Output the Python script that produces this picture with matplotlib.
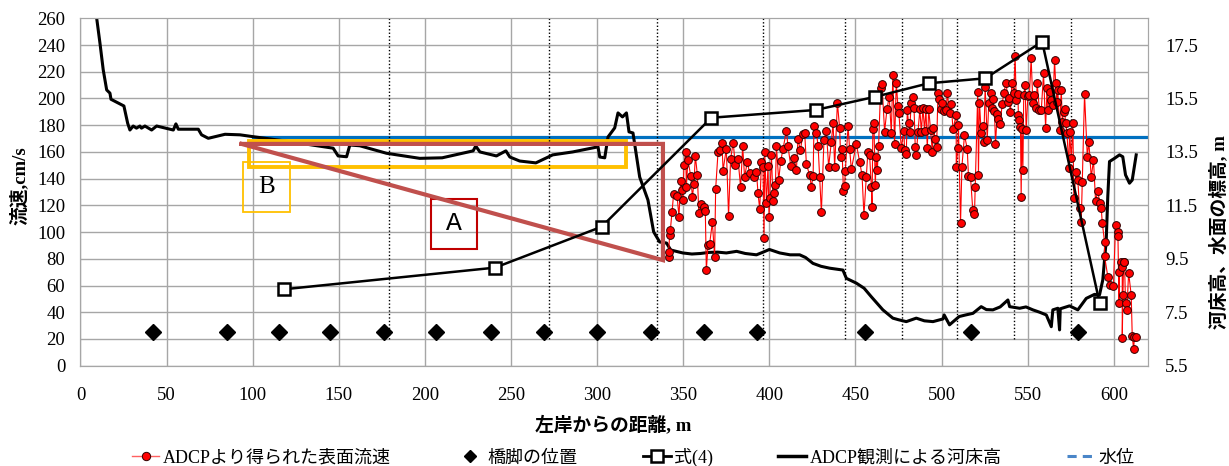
import numpy as np
import matplotlib.pyplot as plt
from matplotlib.lines import Line2D
from matplotlib.patches import Rectangle

plt.rcParams['font.family'] = ['Liberation Serif', 'Noto Sans CJK JP']

# ADCP surface velocity (distance m, cm/s)
spd_x = [341.5, 341.5, 342.1, 342.5, 343.5, 344.4, 346.4, 347.5, 348.5, 349.3, 349.8, 350.4,
         351.4, 351.8, 352.7, 354.3, 355.3, 356.2, 357.0, 358.2, 359.0, 360.5, 361.8, 362.8,
         363.4, 364.4, 365.3, 366.9, 368.2, 368.8, 370.2, 371.3, 372.5, 373.1, 375.0, 376.3,
         377.5, 379.0, 380.2, 381.8, 383.3, 384.5, 385.6, 387.2, 388.5, 391.1,
         392.5, 393.4, 394.4, 395.4, 396.3, 396.9, 397.3, 398.3, 399.2, 399.8, 400.2, 401.2,
         402.1, 402.7, 403.5, 404.1, 405.4, 406.6, 407.9, 409.9, 410.8, 412.4, 414.3, 415.7,
         416.6, 418.0, 419.5, 420.5, 421.5, 423.4, 424.4, 425.4, 425.9, 427.3, 428.3, 429.2,
         430.2, 431.7, 433.1, 434.4, 436.0, 437.0, 437.9, 439.5, 440.8, 441.4, 442.2, 443.0,
         443.7, 444.1, 445.7, 446.6, 447.6,
         450.5, 452.4, 453.8, 454.9, 456.3, 457.2, 458.2, 459.2, 459.6, 460.1, 460.7, 461.5,
         462.1, 462.7, 463.4, 464.6, 465.4, 466.9, 468.3, 469.6, 470.8, 471.7, 472.7, 473.7,
         474.6, 475.2, 476.6, 478.1, 478.5, 479.5, 480.1, 480.8, 481.4, 482.4, 483.4, 484.0,
         484.7, 485.3, 486.3, 487.4, 488.2, 489.2, 490.1, 490.9, 491.7, 492.5, 493.6, 494.6,
         495.3, 496.3, 497.1, 497.9, 498.4, 499.4, 500.2, 501.3, 502.7, 503.3, 504.6, 505.6,
         506.6,
         508.5, 508.5, 509.4, 509.8, 511.0, 511.8, 513.3, 514.9, 515.6, 516.8, 518.1, 519.1,
         519.5, 521.0, 521.4, 522.0, 523.0, 523.9, 524.5, 525.3, 526.5, 527.4, 528.4, 529.2,
         529.7, 530.7, 531.3, 532.3, 532.7, 534.0, 535.2, 536.1, 537.5, 538.5, 539.0, 540.0,
         540.8, 541.9, 542.7, 543.3, 544.3, 544.6, 545.2, 545.8, 546.2, 546.6, 547.2, 547.7,
         548.5, 549.1, 550.1, 551.0, 552.0, 553.0, 553.9, 554.9, 555.5, 556.8,
         557.9, 559.2, 560.4, 561.2, 561.7, 562.7, 563.7, 564.6, 565.6, 566.2, 566.9, 567.5,
         568.5, 569.5, 570.1, 570.8, 571.4, 572.0, 572.8, 573.9, 574.3, 575.3, 576.2, 576.8,
         578.2, 579.1, 580.1, 581.1, 581.7, 583.0, 584.6, 585.5, 586.9, 588.2, 589.4, 590.8,
         591.7, 592.7, 593.3, 594.6, 594.6, 596.6, 597.9, 599.8, 601.0, 602.4, 602.4, 603.0,
         603.3, 604.3, 604.9, 604.9, 605.3, 605.7, 606.2, 606.8, 607.6, 608.6, 610.1, 610.7,
         611.5, 612.0, 612.9]
spd_v = [81.6, 85.4, 97.9, 101.6, 115.3, 128.6, 127.1, 111.6, 138.5, 131.5, 124.1, 150.3,
         160.2, 134.0, 154.0, 142.3, 126.6, 135.8, 157.2, 142.8, 114.1, 121.1, 118.6, 116.1,
         71.7, 90.4, 91.1, 107.3, 81.6, 132.1, 160.2, 161.5, 166.5, 146.0, 162.5, 112.3,
         155.0, 167.0, 150.0, 154.5, 133.5, 164.5, 141.0, 152.8, 144.0, 141.0,
         145.2, 129.0, 117.0, 152.7, 149.0, 95.3, 160.2, 121.5, 149.5, 111.5, 125.3, 157.7,
         123.5, 129.5, 135.2, 164.4, 139.0, 153.2, 162.0, 175.9, 164.4, 149.5, 155.7, 146.5,
         169.4, 161.4, 173.4, 174.4, 150.7, 142.7, 134.0, 142.0, 179.4, 174.4, 164.4, 141.0,
         114.8, 168.9, 175.9, 149.0, 167.7, 181.9, 148.5, 196.9, 177.7, 156.0, 162.0, 131.0,
         134.5, 146.0, 179.4, 162.0, 147.0,
         166.0, 152.7, 142.8, 112.8, 141.5, 160.2, 157.7, 134.0, 119.0, 177.0, 181.4, 135.3,
         156.5, 146.5, 164.5, 207.6, 210.9, 175.2, 192.2, 201.4, 174.0, 217.6, 166.0, 211.9,
         194.6, 189.4, 162.7, 176.0, 161.5, 158.5, 191.4, 181.4, 175.2, 196.9, 201.4, 192.7,
         164.0, 157.7, 175.2, 191.9, 175.2, 192.7, 176.0, 192.2, 162.7, 192.2, 176.4, 160.2,
         177.7, 169.4, 163.5, 204.4, 199.4, 191.9, 196.4, 190.9, 191.4, 204.4, 189.4, 195.9,
         177.0,
         187.7, 149.0, 162.7, 180.2, 106.6, 149.0, 172.7, 162.2, 142.0, 141.0, 116.6, 113.6,
         133.5, 205.1, 142.8, 196.9, 174.0, 179.4, 167.7, 208.9, 169.0, 196.9, 204.4, 192.7,
         199.4, 190.9, 166.0, 188.4, 184.4, 180.9, 195.9, 204.4, 211.9, 197.7, 200.1, 190.2,
         211.9, 204.4, 231.8, 198.9, 203.4, 187.7, 183.9, 178.4, 126.5, 177.0, 146.5, 202.6,
         210.1, 176.4, 201.9, 202.6, 230.1, 196.4, 202.6, 192.7, 211.4, 191.4,
         191.4, 218.9, 177.7, 208.1, 191.4, 205.1, 198.9, 195.2, 228.8, 211.9, 197.7, 206.4,
         176.4, 206.4, 182.7, 190.2, 191.9, 181.4, 174.4, 147.7, 175.2, 155.2, 181.4, 125.3,
         145.2, 139.0, 117.8, 107.8, 137.8, 203.4, 156.5, 167.7, 141.0, 154.0, 123.5, 131.0,
         122.0, 117.8, 107.1, 92.8, 82.1, 66.1, 60.4, 59.7, 105.3, 100.3, 97.1, 46.7,
         70.4, 77.9, 74.1, 20.5, 53.0, 77.9, 77.9, 46.7, 41.7, 69.6, 53.0, 22.2,
         12.3, 21.7, 21.7]

# bridge piers
pier_x = [42.3, 84.9, 115.0, 144.8, 176.1, 206.7, 238.1, 269.0, 300.2, 331.1, 362.0, 393.0,
          455.3, 517.2, 579.1]
pier_v = [25] * len(pier_x)

# eq.(4)
eq_x = [118.0, 240.7, 302.6, 366.3, 426.9, 461.5, 492.6, 525.4, 558.4, 591.7]
eq_v = [57.2, 73.4, 104.0, 185.6, 191.4, 201.3, 211.4, 215.1, 242.5, 47.2]

# ADCP bed elevation (m)
bed_x = [9.0, 11.3, 13.2, 15.2, 17.1, 17.7, 25.2, 27.4, 28.7, 30.6, 32.5, 34.5, 35.4, 37.4,
         41.3, 44.2, 53.9, 55.4, 56.8, 68.4, 70.3, 74.2, 83.9, 92.6, 100.3, 120.0, 146.7,
         149.6, 154.5, 156.4, 162.2, 177.7, 197.0, 210.0, 228.0, 229.5, 231.9, 241.5, 247.0,
         249.3, 255.0, 264.4, 274.2, 285.8, 300.5, 301.5, 304.4, 306.3, 310.2, 312.1, 314.7,
         317.0, 318.5, 320.8, 324.7, 329.5, 332.8, 336.3, 340.3, 342.7, 349.7, 355.0, 360.0,
         365.0, 370.0, 375.0, 381.0, 386.0, 392.5, 396.0, 400.0, 406.0, 412.0, 417.6, 421.0,
         425.3, 430.0, 435.0, 442.7, 444.7, 450.5, 455.0, 459.2, 465.9, 471.7, 475.0, 479.5,
         485.3, 490.0, 495.0, 500.8, 501.5, 504.6, 510.2, 514.0, 518.2, 523.0, 526.0, 529.8,
         534.0, 538.5, 539.5, 545.3, 549.0, 553.0, 557.0, 560.8, 563.7, 564.6, 567.5, 568.5,
         568.9, 574.3, 579.1, 584.0, 588.8, 591.7, 593.6, 595.6, 596.5, 597.5, 600.4, 603.3,
         605.2, 606.8, 609.1, 610.7, 613.0]
bed_m = [18.70, 17.57, 16.57, 15.82, 15.70, 15.47, 15.22, 14.57, 14.32, 14.47, 14.39, 14.47,
         14.39, 14.47, 14.32, 14.47, 14.32, 14.55, 14.35, 14.35, 14.14, 14.01, 14.16, 14.14,
         14.07, 13.90, 13.64, 13.35, 13.32, 13.76, 13.73, 13.45, 13.26, 13.28, 13.54, 13.72,
         13.50, 13.35, 13.54, 13.31, 13.16, 13.09, 13.39, 13.50, 13.69, 13.31, 13.28, 14.06,
         14.40, 14.96, 14.81, 14.96, 14.25, 14.21, 12.56, 11.70, 10.51, 10.13, 10.09, 9.83,
         9.72, 9.68, 9.70, 9.74, 9.75, 9.72, 9.78, 9.70, 9.65, 9.74, 9.85, 9.72, 9.65, 9.65,
         9.55, 9.33, 9.22, 9.15, 9.08, 8.77, 8.59, 8.40, 8.08, 7.59, 7.28, 7.22, 7.15, 7.28,
         7.18, 7.15, 7.25, 7.40, 7.03, 7.34, 7.40, 7.46, 7.71, 7.60, 7.59, 7.70, 7.96, 7.71,
         7.65, 7.70, 7.59, 7.50, 7.40, 6.96, 7.59, 7.65, 6.84, 7.63, 7.74, 7.59, 8.02, 8.17,
         8.15, 8.71, 10.20, 11.83, 13.14, 13.26, 13.39, 13.32, 12.64, 12.33, 12.45, 13.39]

# water level (m)
wl_x = [100, 620]
wl_m = [14.07, 14.07]

# dotted section lines
sec_x = [179.2, 271.9, 334.8, 396.3, 444.1, 477.2, 508.9, 542.0, 574.9]

# annotation shapes (distance m, cm/s)
tri_x = [93.5, 338.2, 338.2, 93.5]
tri_v = [166.0, 166.0, 79.0, 166.0]
boxA = (203.4, 87.3, 27.1, 37.5)
boxB = (94.5, 115.3, 27.1, 37.4)
boxY = (98.0, 149.0, 218.6, 19.2)
labA = (216.8, 107.0)
labB = (108.0, 134.0)

gridc = '#A6A6A6'
fig = plt.figure(figsize=(12.29, 4.66), dpi=100)
ax = fig.add_axes([0.0655, 0.2152, 0.8688, 0.7455])
ax2 = ax.twinx()
ax.set_zorder(2)
ax2.set_zorder(1)
ax.patch.set_visible(False)

ax.set_xlim(0, 620)
ax.set_ylim(0, 260)
ax2.set_ylim(5.5, 18.5)
ax.set_xticks(np.arange(0, 601, 50))
ax.set_yticks(np.arange(0, 261, 20))
ax2.set_yticks(np.arange(5.5, 17.6, 2))
ax2.set_yticks(np.arange(6.5, 18.5, 2), minor=True)
ax2.set_yticklabels(['%.1f' % v for v in np.arange(5.5, 17.6, 2)])

ax2.xaxis.set_visible(True)
ax2.grid(True, which='both', color=gridc, lw=1.0)
ax2.tick_params(axis='both', which='both', length=0)
ax2.tick_params(axis='x', labelbottom=False, labeltop=False)
ax2.tick_params(axis='y', labelsize=13.5, pad=12)
ax.tick_params(axis='both', length=0, labelsize=13.5)
ax.tick_params(axis='x', pad=15)
ax.tick_params(axis='y', pad=11)
for a in (ax, ax2):
    for s in a.spines.values():
        s.set_color(gridc)

# layers on the right axis
ax2.plot(wl_x, wl_m, color='#0070C0', lw=2.3)
ax2.plot(bed_x, bed_m, color='black', lw=2.2)

# layers on the left axis
for xs in sec_x:
    ax.plot([xs, xs], [20, 260], color='black', lw=1.0, ls=(0, (1, 1.5)))

order = np.argsort(spd_x, kind='stable')
ax.plot(np.array(spd_x)[order], np.array(spd_v)[order], color='red', lw=0.8,
        marker='o', ms=5.6, mfc='red', mec='#300000', mew=0.7)
ax.plot(pier_x, pier_v, ls='none', marker='D', ms=8, color='black')
ax.plot(eq_x, eq_v, color='black', lw=1.8, marker='s', ms=8, mfc='white',
        mec='black', mew=1.8, zorder=4)

ax.plot(tri_x, tri_v, color='#C0504D', lw=3.0, solid_joinstyle='miter')
ax.add_patch(Rectangle(boxY[:2], boxY[2], boxY[3], fill=False, ec='#FFC000', lw=2.8))
ax.add_patch(Rectangle(boxB[:2], boxB[2], boxB[3], fill=False, ec='#FFC000', lw=1.3))
ax.add_patch(Rectangle(boxA[:2], boxA[2], boxA[3], fill=False, ec='#C00000', lw=1.5))
ax.text(labA[0], labA[1], 'A', ha='center', va='center', fontsize=19,
        family='Liberation Mono')
ax.text(labB[0], labB[1], 'B', ha='center', va='center', fontsize=18)

lab_font = ['Liberation Serif', 'Noto Sans CJK JP']
fig.text(19 / 1229, 1 - 186 / 466, '流速,cm/s', rotation=90, ha='center', va='center',
         fontsize=13.5, fontweight='bold', family=lab_font)
fig.text(1219 / 1229, 1 - 232 / 466, '河床高、水面の標高, m', rotation=90, ha='center',
         va='center', fontsize=13.5, fontweight='bold', family=lab_font)
fig.text(613 / 1229, 1 - 425 / 466, '左岸からの距離, m', ha='center', va='center',
         fontsize=13.5, fontweight='bold', family=lab_font)

handles = [
    Line2D([], [], color='#FF6060', lw=1.0, marker='o', ms=6, mfc='red', mec='#300000', mew=0.7),
    Line2D([], [], ls='none', marker='D', ms=6.5, color='black'),
    Line2D([], [], color='black', lw=2, marker='s', ms=8, mfc='white', mec='black', mew=1.8),
    Line2D([], [], color='black', lw=2.5),
    Line2D([], [], color='#4A86C8', lw=2.2, ls=(0, (3, 2))),
]
labels = ['ADCPより得られた表面流速', '橋脚の位置', '式(4)', 'ADCP観測による河床高', '水位']
fig.legend(handles, labels, loc='center', bbox_to_anchor=(633 / 1229, 1 - 457 / 466), ncol=5,
           frameon=False, handlelength=1.55, handletextpad=0.2,
           columnspacing=3.6, prop={'family': lab_font, 'size': 13})

fig.savefig('out.png', dpi=100)
